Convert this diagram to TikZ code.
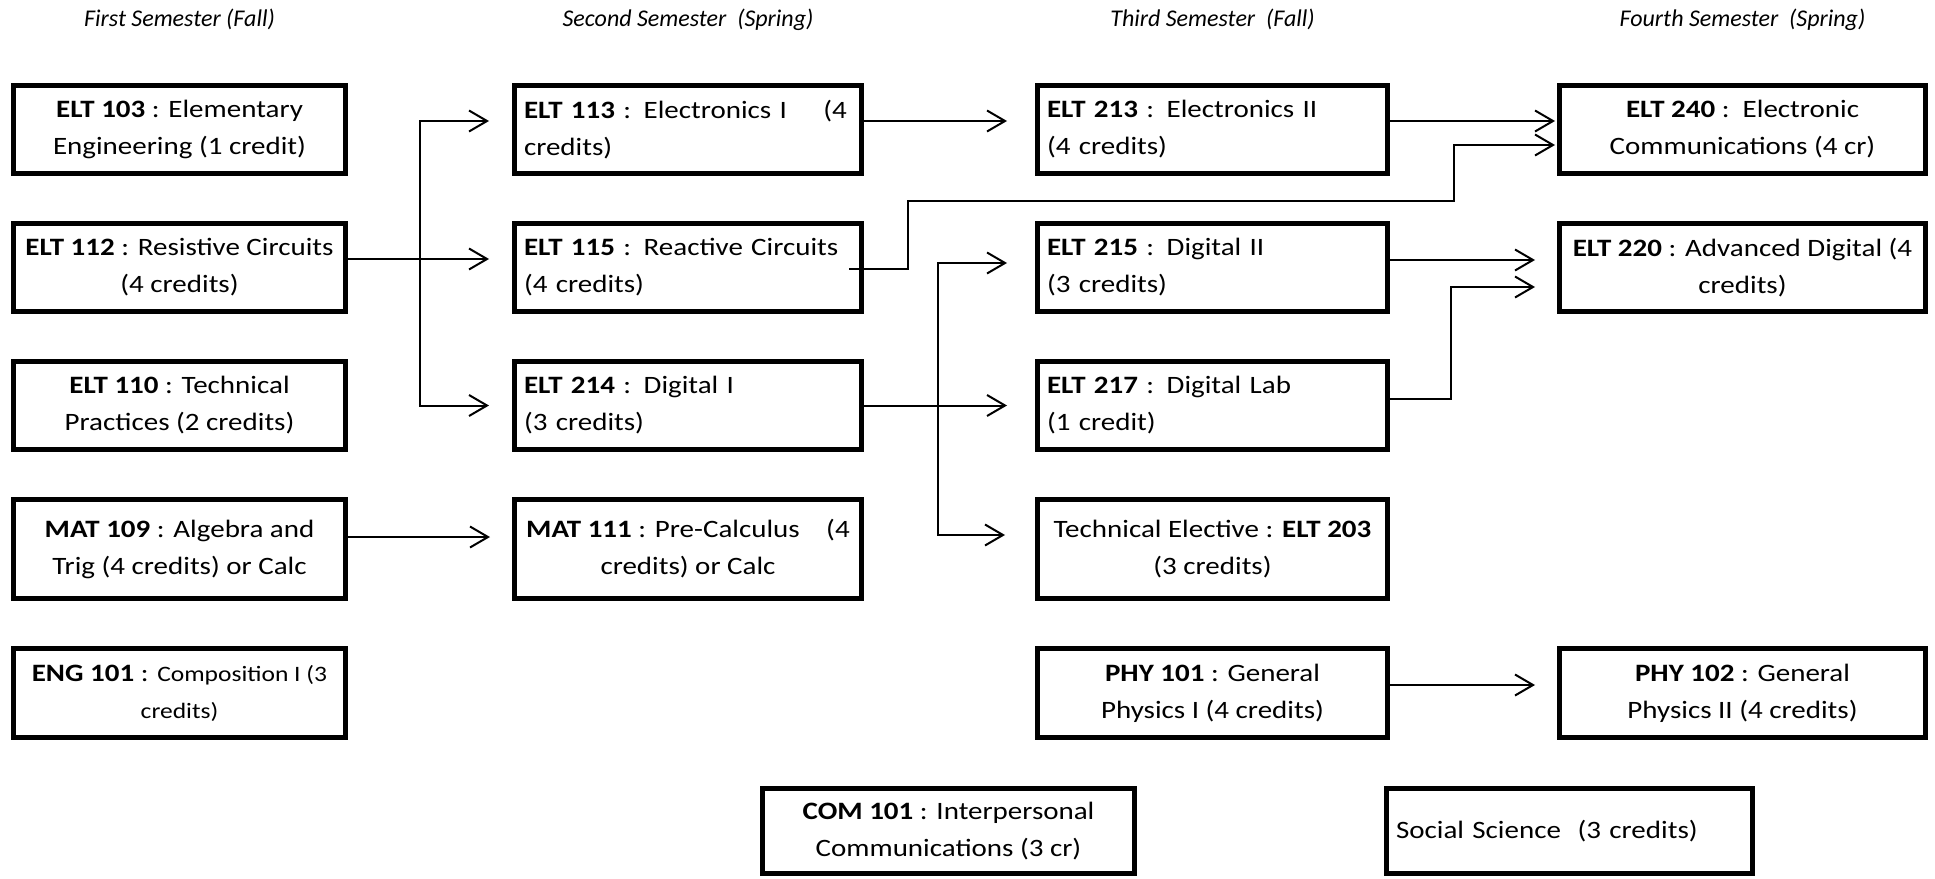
\documentclass[tikz,border=0pt]{standalone}
\usepackage{fontspec}
\setmainfont{Carlito}[FakeStretch=1.16]
\newfontfamily\termfont{Carlito}
\usetikzlibrary{arrows.meta,chains,positioning,scopes}

\begin{document}
\begin{tikzpicture}[
                x = 1pt, y = -1pt,
                node distance = 45pt,
                Course/.style={draw, line width=5pt, outer sep=2.5pt, inner xsep=0pt, inner ysep=0pt,
                    minimum height=88pt, align=center, font=\fontsize{25}{37}\selectfont},
                LeftCourse/.style={Course, align=left, inner xsep=9.5pt},
                Term/.style={anchor=base, font=\termfont\fontsize{24}{28}\selectfont\itshape},
                Prereq/.style={line width=2pt, -{Straight Barb[length=18pt, width=21pt]}},
            ]
            \useasboundingbox (0,0) rectangle (1935,878);
            { [start chain = going below]
                \node [Course, minimum width=332pt, on chain] (elt103) at (179.5,129.5) {\textbf{ELT 103} : Elementary\\Engineering (1 credit)};
                \node [Course, minimum width=332pt, on chain] (elt112) {\textbf{ELT 112} : Resistive Circuits\\(4 credits)};
                \node [Course, minimum width=332pt, on chain] (elt110) {\textbf{ELT 110} : Technical\\Practices (2 credits)};
                \node [Course, minimum width=332pt, minimum height=99pt, on chain] (mat109) {\textbf{MAT 109} : Algebra and\\Trig (4 credits) or Calc};
                \node [Course, minimum width=332pt, minimum height=89pt, on chain] (eng101) {\textbf{ENG 101} : {\fontsize{22}{37}\selectfont Composition I (3}\\{\fontsize{22}{37}\selectfont credits)}};
            }
            { [start chain = going below]
                \node [LeftCourse, text width=328pt, on chain] (elt113) at (688,129.5) {\textbf{ELT 113} : Electronics I \hspace{28pt}(4\\credits)};
                \node [LeftCourse, text width=328pt, on chain] (elt115) {\textbf{ELT 115} : Reactive Circuits\\(4 credits)};
                \node [LeftCourse, text width=328pt, on chain] (elt214) {\textbf{ELT 214} : Digital I\\(3 credits)};
                \node [Course, minimum width=347pt, minimum height=99pt, on chain] (mat111) {\textbf{MAT 111} : Pre-Calculus \hspace{20pt}(4\\credits) or Calc};
            }
            { [start chain = going below]
                \node [LeftCourse, text width=331pt, on chain] (elt213) at (1212.5,129.5) {\textbf{ELT 213} : Electronics II\\(4 credits)};
                \node [LeftCourse, text width=331pt, on chain] (elt215) {\textbf{ELT 215} : Digital II\\(3 credits)};
                \node [LeftCourse, text width=331pt, on chain] (elt217) {\textbf{ELT 217} : Digital Lab\\(1 credit)};
                \node [Course, minimum width=350pt, minimum height=99pt, on chain] (tech) {Technical Elective : \textbf{ELT 203}\\(3 credits)};
                \node [Course, minimum width=350pt, minimum height=89pt, on chain] (phy101) {\textbf{PHY 101} : General\\Physics I (4 credits)};
            }
            { [start chain = going below]
                \node [Course, minimum width=366pt, on chain] (elt240) at (1742.5,129.5) {\textbf{ELT 240} :\ \ Electronic\\Communications (4 cr)};
                \node [Course, minimum width=366pt, on chain] (elt220) {\textbf{ELT 220} : Advanced Digital (4\\credits)};
            }
            \node [Course, minimum width=366pt, minimum height=89pt] (phy102) at (elt240 |- phy101) {\textbf{PHY 102} : General\\Physics II (4 credits)};
            \node [Course, minimum width=372pt, minimum height=85pt] (com101) at (948.5,831) {\textbf{COM 101} : Interpersonal\\Communications (3 cr)};
            \node [LeftCourse, text width=347pt, minimum height=85pt] (social) at (1569.5,831) {Social Science\ \ (3 credits)};

            \node [Term] (sem1) at (elt103.north |- 0,26) {First Semester (Fall)};
            \node [Term] (sem2) at (elt113.north |- 0,26) {Second Semester\ \ (Spring)};
            \node [Term] (sem3) at (elt213.north |- 0,26) {Third Semester\ \ (Fall)};
            \node [Term] (sem4) at (elt240.north |- 0,26) {Fourth Semester\ \ (Spring)};

            \coordinate (bus1) at ([xshift=72pt, yshift=8.5pt]elt112.east);
            \coordinate (bus2) at ([xshift=74pt]elt214.east);
            \coordinate (jog1) at (1454,201);

            \draw [Prereq, shorten >=23pt] ([yshift=8.5pt]elt112.east) -- ([yshift=8.5pt]elt115.west);
            \draw [Prereq, shorten >=23pt] (bus1) |- ([yshift=8.5pt]elt113.west);
            \draw [Prereq, shorten >=23pt] (bus1) |- (elt214.west);
            \draw [Prereq, shorten >=22pt] ([yshift=12pt]mat109.east) -- ([yshift=12pt]mat111.west);
            \draw [Prereq, shorten >=28pt] ([yshift=8.5pt]elt113.east) -- ([yshift=8.5pt]elt213.west);
            \draw [Prereq, shorten >=28pt] (elt214.east) -- (elt217.west);
            \draw [Prereq, shorten >=28pt] (bus2) |- ([yshift=4.5pt]elt215.west);
            \draw [Prereq, shorten >=30pt] (bus2) |- ([yshift=14pt]tech.west);
            \draw [Prereq, shorten >=2pt] ([xshift=-15pt, yshift=-1.5pt]elt115.east) -- ++(59,0) |- (jog1) |- ([yshift=-15.5pt]elt240.west);
            \draw [Prereq, shorten >=2pt] ([yshift=8.5pt]elt213.east) -- ([yshift=8.5pt]elt240.west);
            \draw [Prereq, shorten >=22pt] ([yshift=7.5pt]elt215.east) -- ([yshift=7.5pt]elt220.west);
            \draw [Prereq, shorten >=22pt] ([yshift=6.5pt]elt217.east) -- ++(61,0) |- ([yshift=-19.5pt]elt220.west);
            \draw [Prereq, shorten >=22pt] ([yshift=8pt]phy101.east) -- ([yshift=8pt]phy102.west);
        \end{tikzpicture}
\end{document}
